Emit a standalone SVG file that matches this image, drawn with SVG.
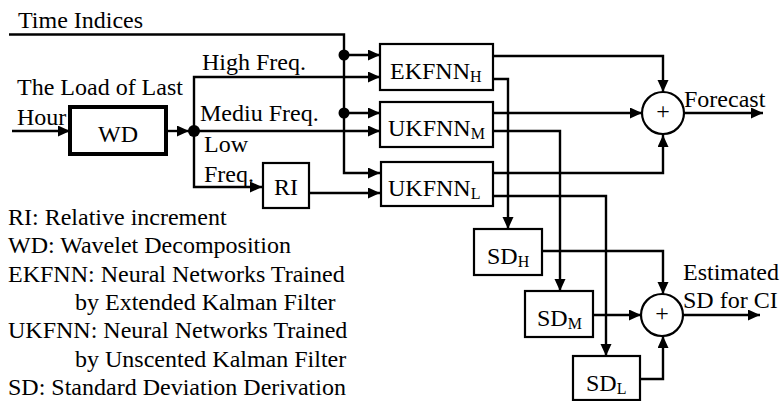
<svg xmlns="http://www.w3.org/2000/svg" width="783" height="401" viewBox="0 0 783 401" font-family="'Liberation Serif', 'Times New Roman', 'DejaVu Serif', serif">
<style>
text{font-family:'Liberation Serif','Times New Roman','DejaVu Serif',serif;font-size:24px;fill:#000}
.box{fill:#fff;stroke:#000;stroke-width:2.2}
.thick{fill:#fff;stroke:#000;stroke-width:4}
.ln{fill:none;stroke:#000;stroke-width:2.4}
.ar{marker-end:url(#ah)}
.dot{fill:#000}
.sub{font-size:16px}
</style>
<defs>
<marker id="ah" markerUnits="userSpaceOnUse" markerWidth="14" markerHeight="12" refX="12" refY="5.5" orient="auto">
<path d="M0,0 L12,5.5 L0,11 z" fill="#000"/>
</marker>
</defs>

<g id="connectors">
<polyline class="ln ar" points="9,34.5 344,34.5 344,173 380,173"/>
<line class="ln ar" x1="344" y1="55" x2="380" y2="55"/>
<line class="ln ar" x1="344" y1="113" x2="380" y2="113"/>
<circle class="dot" cx="344" cy="55" r="5.5"/>
<circle class="dot" cx="344" cy="113" r="5.5"/>
<line class="ln ar" x1="12" y1="131" x2="70" y2="131"/>
<line class="ln ar" x1="166" y1="131" x2="189" y2="131"/>
<circle class="dot" cx="194" cy="131" r="6"/>
<polyline class="ln ar" points="194,131 194,77 380,77"/>
<line class="ln ar" x1="194" y1="131" x2="380" y2="131"/>
<polyline class="ln ar" points="194,131 194,187 262,187"/>
<line class="ln ar" x1="309" y1="193" x2="380" y2="193"/>
<polyline class="ln ar" points="493,56 663,56 663,92"/>
<line class="ln ar" x1="493" y1="113" x2="642" y2="113"/>
<polyline class="ln ar" points="493,173 663,173 663,135"/>
<line class="ln ar" x1="684" y1="113" x2="763" y2="113"/>
<polyline class="ln ar" points="493,79 508,79 508,229"/>
<polyline class="ln ar" points="493,131 560,131 560,291"/>
<polyline class="ln ar" points="493,196 606,196 606,356"/>
<polyline class="ln ar" points="542,251 663,251 663,294"/>
<line class="ln ar" x1="593" y1="315" x2="641" y2="315"/>
<polyline class="ln ar" points="640,379 663,379 663,336"/>
<line class="ln ar" x1="683" y1="315" x2="760" y2="315"/>
</g>

<g id="labels">
<text x="18" y="28">Time Indices</text>
<text x="17" y="95">The Load of Last</text>
<text x="17" y="125">Hour</text>
<text x="202" y="70">High Freq.</text>
<text x="200" y="121">Mediu Freq.</text>
<text x="204" y="152">Low</text>
<text x="204" y="182">Freq.</text>
<text x="684" y="107">Forecast</text>
<text x="683" y="280">Estimated</text>
<text x="683" y="308">SD for CI</text>
</g>

<g id="WD">
<rect class="thick" x="70" y="107" width="96" height="47"/>
<text x="118" y="142" text-anchor="middle">WD</text>
</g>
<g id="RI">
<rect class="box" x="263" y="163" width="46" height="45"/>
<text x="286" y="195" text-anchor="middle">RI</text>
</g>
<g id="EKFNN_H">
<rect class="box" x="380" y="44" width="113" height="46"/>
<text x="390" y="79">EKFNN<tspan class="sub" dy="3">H</tspan></text>
</g>
<g id="UKFNN_M">
<rect class="box" x="380" y="102" width="113" height="45"/>
<text x="388" y="136">UKFNN<tspan class="sub" dy="3">M</tspan></text>
</g>
<g id="UKFNN_L">
<rect class="box" x="381" y="162" width="112" height="44"/>
<text x="388" y="196">UKFNN<tspan class="sub" dy="3">L</tspan></text>
</g>
<g id="SD_H">
<rect class="box" x="474" y="229" width="68" height="46"/>
<text x="487" y="264">SD<tspan class="sub" dy="3">H</tspan></text>
</g>
<g id="SD_M">
<rect class="box" x="525" y="291" width="68" height="46"/>
<text x="537" y="326">SD<tspan class="sub" dy="3">M</tspan></text>
</g>
<g id="SD_L">
<rect class="box" x="573" y="356" width="67" height="44"/>
<text x="586" y="391">SD<tspan class="sub" dy="3">L</tspan></text>
</g>
<g id="sum_forecast">
<circle cx="663" cy="113" r="21" fill="#fff" stroke="#000" stroke-width="2.2"/>
<text x="663" y="119" text-anchor="middle" font-size="16">+</text>
</g>
<g id="sum_sd">
<circle cx="662" cy="315" r="21" fill="#fff" stroke="#000" stroke-width="2.2"/>
<text x="662" y="321" text-anchor="middle" font-size="16">+</text>
</g>

<g id="legend">
<text x="8" y="225">RI: Relative increment</text>
<text x="8" y="253">WD: Wavelet Decomposition</text>
<text x="8" y="282">EKFNN: Neural Networks Trained</text>
<text x="75" y="310">by Extended Kalman Filter</text>
<text x="8" y="338">UKFNN: Neural Networks Trained</text>
<text x="75" y="367">by Unscented Kalman Filter</text>
<text x="8" y="395">SD: Standard Deviation Derivation</text>
</g>
</svg>
